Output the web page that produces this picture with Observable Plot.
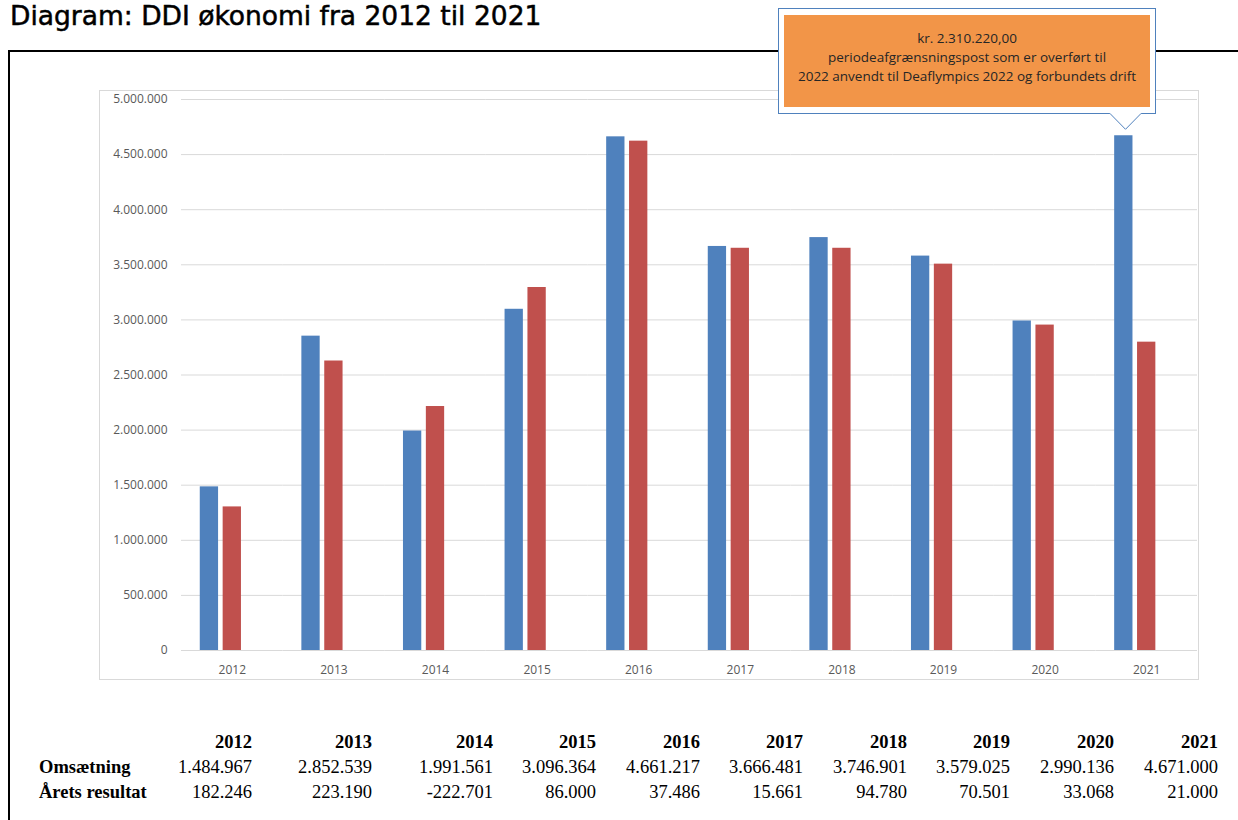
<!DOCTYPE html>
<html>
<head>
<meta charset="utf-8">
<script src="https://cdn.jsdelivr.net/npm/d3@7"></script>
<script src="https://cdn.jsdelivr.net/npm/@observablehq/plot@0.6"></script>
<style>
  html, body { margin: 0; padding: 0; background: #fff; overflow: hidden; }
  #page { position: relative; width: 1238px; height: 820px; overflow: hidden; background: #fff; }
  #title { position: absolute; left: 10px; top: 1px; font-family: "DejaVu Sans"; font-size: 26.5px; line-height: 30px; color: #000; -webkit-text-stroke: 0.5px #000; white-space: nowrap; }
  #frame { position: absolute; left: 8px; top: 50px; width: 1400px; height: 900px; border-left: 2px solid #000; border-top: 2px solid #000; }
  #chartbox { position: absolute; left: 99px; top: 90px; width: 1100px; height: 590px; border: 1px solid #d9d9d9; box-sizing: border-box; background: #fff; }
  #chartbox svg { display: block; }
  #callout { position: absolute; left: 778px; top: 8px; width: 378px; height: 106px; border: 1px solid #4f81bd; box-sizing: border-box; background: #fff; }
  #callout .inner { position: absolute; left: 5px; top: 6px; width: 366px; height: 92px; background: #f29548; font-family: "Open Sans"; font-size: 13.5px; line-height: 19px; color: #262626; text-align: center; box-sizing: border-box; padding-top: 14px; white-space: nowrap; }
  #pointer { position: absolute; left: 1105px; top: 108px; }
  .cell { position: absolute; font-family: "Liberation Serif", "Times New Roman", serif; font-size: 18.5px; line-height: 20px; color: #000; white-space: nowrap; }
  .bold { font-weight: bold; }
</style>
</head>
<body>
<div id="page">
  <div id="title"></div>
  <div id="frame"></div>
  <div id="chartbox"></div>
  <div id="table"></div>
  <div id="callout"><div class="inner"></div></div>
  <svg id="pointer" width="42" height="26"></svg>
</div>
<script>
// ---- data ----
const titleText = "Diagram: DDI økonomi fra 2012 til 2021";
const years = [2012, 2013, 2014, 2015, 2016, 2017, 2018, 2019, 2020, 2021];
const omsaetning = [1484967, 2852539, 1991561, 3096364, 4661217, 3666481, 3746901, 3579025, 2990136, 4671000];
const aaretsResultat = [182246, 223190, -222701, 86000, 37486, 15661, 94780, 70501, 33068, 21000];
// red bars
const udgifter = [1303000, 2627000, 2214000, 3294000, 4622000, 3650000, 3650000, 3506000, 2953000, 2798000];
const seriesNames = ["Omsætning", "Udgifter"];
const seriesColors = ["#4f81bd", "#c0504d"];
const yTicks = [0, 500000, 1000000, 1500000, 2000000, 2500000, 3000000, 3500000, 4000000, 4500000, 5000000];
const rowLabels = ["Omsætning", "Årets resultat"];
const calloutLines = ["kr. 2.310.220,00", "periodeafgrænsningspost som er overført til", "2022 anvendt til Deaflympics 2022 og forbundets drift"];

// ---- formatting ----
const locale = d3.formatLocale({decimal: ",", thousands: ".", grouping: [3], currency: ["", " kr"], minus: "-"});
const fmt = locale.format(",d");

document.getElementById("title").textContent = titleText;

// ---- chart ----
const data = years.flatMap((yr, i) => [
  {year: yr, series: seriesNames[0], value: omsaetning[i]},
  {year: yr, series: seriesNames[1], value: udgifter[i]}
]);

const chart = Plot.plot({
  width: 1098,
  height: 588,
  marginLeft: 81,
  marginRight: 1,
  marginTop: 8,
  marginBottom: 29,
  style: {fontFamily: "'Open Sans'", fontSize: "12px", color: "#595959", background: "transparent", overflow: "visible"},
  fx: {domain: years, paddingInner: 0, paddingOuter: 0, round: false, axis: "bottom", tickSize: 0, tickPadding: 15, label: null, tickFormat: d => String(d)},
  x: {domain: [...seriesNames, "_"], paddingInner: 0.2, paddingOuter: 0.82, round: false, axis: null},
  y: {domain: [0, 5000000], ticks: yTicks, tickFormat: fmt, tickSize: 0, tickPadding: 14, label: null},
  color: {domain: seriesNames, range: seriesColors},
  marks: [
    Plot.ruleY(yTicks, {stroke: "#d9d9d9", strokeWidth: 1}),
    Plot.barY(data, {fx: "year", x: "series", y: "value", fill: "series"})
  ]
});
document.getElementById("chartbox").appendChild(chart);

// ---- callout ----
const inner = document.querySelector("#callout .inner");
calloutLines.forEach(t => { const d = document.createElement("div"); d.textContent = t; inner.appendChild(d); });
const ptr = d3.select("#pointer");
ptr.append("polygon").attr("points", "4,4.5 20.5,21.3 37,4.5").attr("fill", "#fff");
ptr.append("polyline").attr("points", "5,5.5 20.5,21.3 36,5.5").attr("fill", "none").attr("stroke", "#4f81bd").attr("stroke-width", 1);

// ---- table ----
const table = document.getElementById("table");
const colRight = [252, 372, 493, 596, 700, 803, 907, 1010, 1114, 1218];
const rowTop = [732, 757, 782];
function cell(text, top, opts) {
  const s = document.createElement("div");
  s.className = "cell" + (opts.bold ? " bold" : "");
  s.textContent = text;
  s.style.top = top + "px";
  if (opts.right != null) { s.style.right = (1238 - opts.right) + "px"; s.style.textAlign = "right"; }
  else s.style.left = opts.left + "px";
  table.appendChild(s);
}
years.forEach((yr, i) => {
  cell(String(yr), rowTop[0], {right: colRight[i], bold: true});
  cell(fmt(omsaetning[i]), rowTop[1], {right: colRight[i]});
  cell(fmt(aaretsResultat[i]), rowTop[2], {right: colRight[i]});
});
cell(rowLabels[0], rowTop[1], {left: 39, bold: true});
cell(rowLabels[1], rowTop[2], {left: 39, bold: true});
</script>
</body>
</html>
